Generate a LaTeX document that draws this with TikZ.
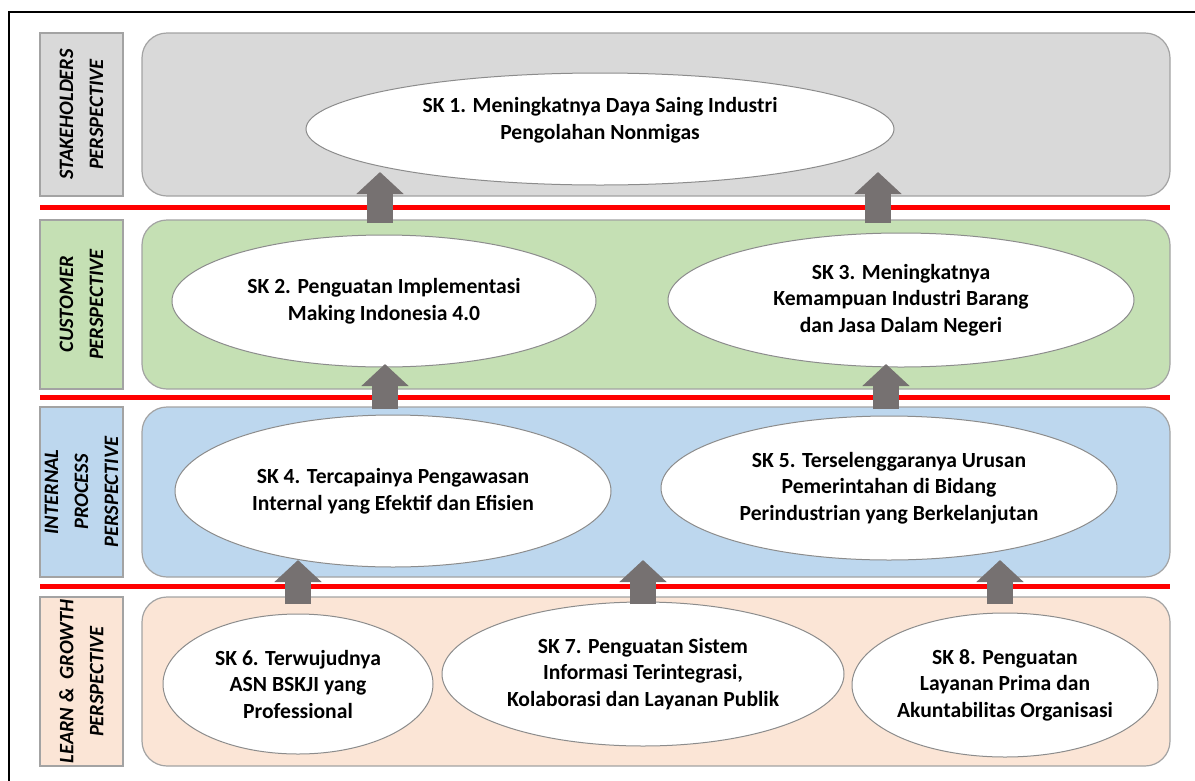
\documentclass[tikz,border=0pt]{standalone}
\usepackage{fontspec}
\setmainfont{Carlito}
\usepackage{tikz}
\usetikzlibrary{calc}
\usetikzlibrary{shapes}
\usetikzlibrary{arrows.meta}
\definecolor{stkgray}{HTML}{D9D9D9}
\definecolor{cusgreen}{HTML}{C5E0B4}
\definecolor{intblue}{HTML}{BDD7EE}
\definecolor{lrnpeach}{HTML}{FBE5D6}
\definecolor{edgegray}{HTML}{A3A3A3}
\definecolor{ovalgray}{HTML}{8C8C8C}
\definecolor{arrgray}{HTML}{767171}
\tikzset{
  lanelbl/.style={rotate=90, align=center, inner sep=0pt,
    font=\fontsize{20.5}{30}\selectfont\bfseries\itshape},
  skoval/.style={shape=ellipse, draw=ovalgray, fill=white, line width=1pt, inner sep=0pt},
  sktext/.style={align=center, inner sep=0pt, font=\fontsize{21.6}{26.5}\selectfont\bfseries},
  blockarr/.style={draw=arrgray, line width=26pt, -{Triangle[width=46pt,length=22pt]}},
  redline/.style={draw=red, line width=5pt}
}
\newcommand{\lane}[5]{ \draw[fill=#4, draw=edgegray, line width=1.2pt] (40,#2) rectangle (123,#3);
  \draw[fill=#4, draw=edgegray, line width=1.2pt, rounded corners=25pt] (142,#2) rectangle (1170,#3);
  \node[lanelbl] (#1) at (81.5,{(#2+#3)/2}) {#5};}
\newcommand{\skoval}[6]{ \node[skoval, minimum width=#4pt, minimum height=#5pt] (#1) at ( #2 , #3 ) {};
  \node[sktext] (#1t) at (#1.center) {#6};}
\newcommand{\uparr}[4]{ \coordinate (#1s) at ( #2 , #3 ); \coordinate (#1e) at ( #2 , #4 );
  \draw[blockarr] (#1s) -- (#1e);}

\begin{document}
\begin{tikzpicture}[x=1pt,y=-1pt]
        \fill[white] (0,0) rectangle (1195,780);
        \useasboundingbox (0,0) rectangle (1195,780);
        \draw[line width=2pt] (9,12) rectangle (1205,790);

        % lanes
        \lane{stk}{33}{196}{stkgray}{STAKEHOLDERS\\PERSPECTIVE}
        \lane{cus}{220}{389}{cusgreen}{CUSTOMER\\PERSPECTIVE}
        \lane{int}{407}{577}{intblue}{INTERNAL\\PROCESS\\PERSPECTIVE}
        \lane{lrn}{597}{766}{lrnpeach}{LEARN \&\ \ GROWTH\\PERSPECTIVE}

        % separators
        \draw[redline] (40,207) -- (1170,207);
        \draw[redline] (40,397) -- (1170,397);
        \draw[redline] (40,586) -- (1170,586);

        % objectives
        \skoval{sk1}{600}{129}{588}{112}{}
        \node[sktext] (sk1t) at ($(sk1.center)+(0,-9)$) {SK 1. Meningkatnya Daya Saing Industri\\Pengolahan Nonmigas};
        \skoval{sk2}{384}{301}{424}{132}{SK 2. Penguatan Implementasi\\Making Indonesia 4.0}
        \skoval{sk3}{901}{300}{466}{134}{SK 3. Meningkatnya\\Kemampuan Industri Barang\\dan Jasa Dalam Negeri}
        \skoval{sk4}{393}{491}{436}{152}{SK 4. Tercapainya Pengawasan\\Internal yang Efektif dan Efisien}
        \skoval{sk5}{889}{488}{456}{144}{SK 5. Terselenggaranya Urusan\\Pemerintahan di Bidang\\Perindustrian yang Berkelanjutan}
        \skoval{sk6}{298}{684}{270}{140}{SK 6. Terwujudnya\\ASN BSKJI yang\\Professional}
        \skoval{sk7}{643}{674}{402}{144}{SK 7. Penguatan Sistem\\Informasi Terintegrasi,\\Kolaborasi dan Layanan Publik}
        \skoval{sk8}{1005}{685}{306}{144}{SK 8. Penguatan\\Layanan Prima dan\\Akuntabilitas Organisasi}

        % arrows
        \uparr{a1}{380}{223}{172}
        \uparr{a2}{878}{223}{172}
        \uparr{a3}{385}{409}{364}
        \uparr{a4}{886}{409}{364}
        \uparr{a5}{298}{604}{560}
        \uparr{a6}{643}{604}{560}
        \uparr{a7}{1000}{604}{560}
    \end{tikzpicture}
\end{document}
